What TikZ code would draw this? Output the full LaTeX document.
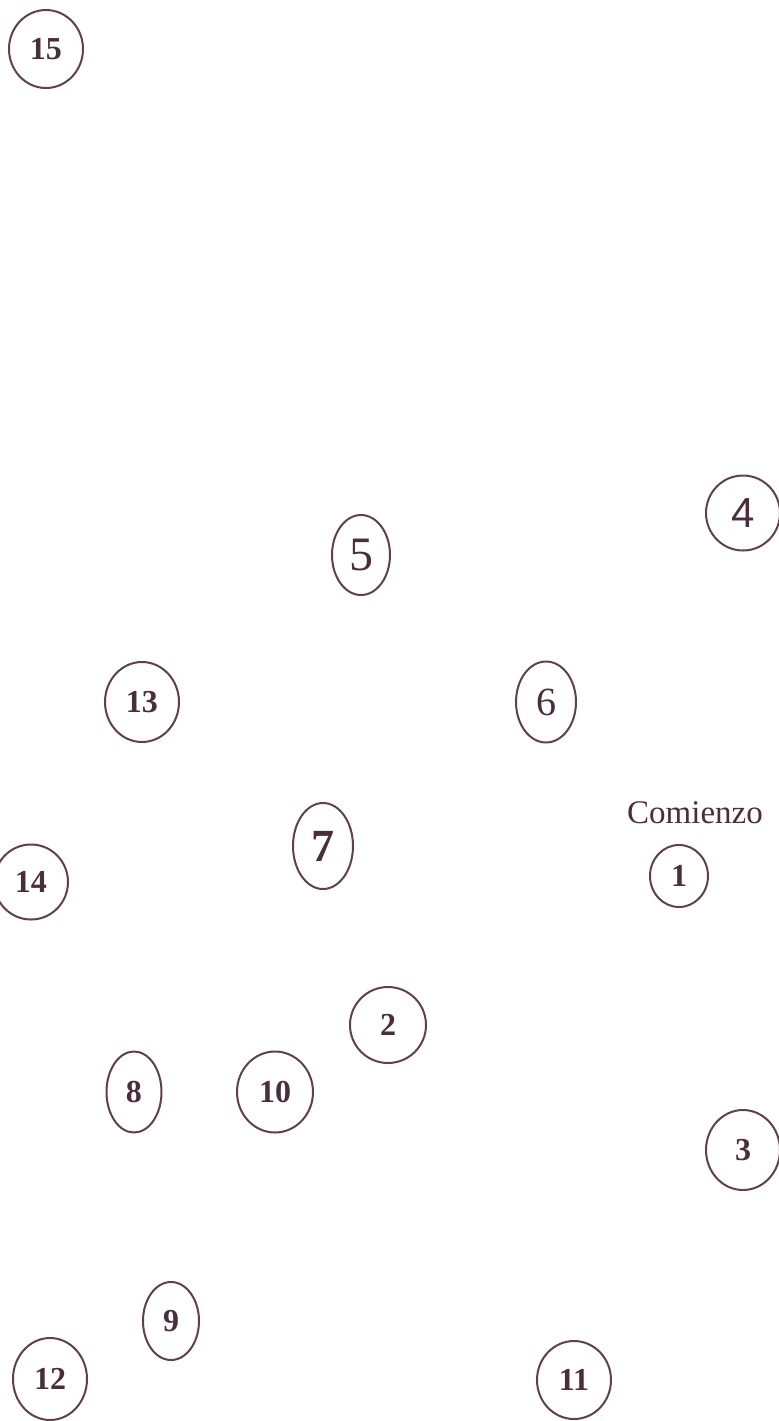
\documentclass[tikz,border=0pt]{standalone}
\usepackage{fontspec}
\setmainfont{Liberation Serif}
\newfontfamily\arialfont{Liberation Sans}
\usepackage{xcolor}
\definecolor{ring-line}{HTML}{5E4050}
\definecolor{ring-text}{HTML}{4B2E3D}
\usetikzlibrary{
  shapes.geometric,
  positioning
}

\begin{document}
\begin{tikzpicture}[
    x=0.5pt, y=-0.5pt,
    stop/.style={
      ellipse,
      draw=ring-line,
      line width=1pt,
      inner sep=0pt,
      text=ring-text,
      font=\fontsize{16}{16}\selectfont\bfseries,
      minimum width=37pt,
      minimum height=39pt
    },
    plain/.style={
      font=\fontsize{#1}{#1}\selectfont\mdseries
    },
    tag/.style={
      text=ring-text,
      font=\fontsize{16.5}{16.5}\selectfont
    }
  ]
    \useasboundingbox (0,0) rectangle (779,1421);

    % upper part
    \node[stop] (n15) at (46, 49) {15};
    \node[stop, minimum height=37.5pt, font=\fontsize{21}{21}\selectfont\arialfont] (n4) at (743, 513) {4};
    \node[stop, minimum width=29pt, minimum height=40pt, plain=24] (n5) at (361, 555) {5};
    \node[stop, minimum height=40pt] (n13) at (142, 702) {13};
    \node[stop, minimum width=30pt, minimum height=40.5pt, plain=20] (n6) at (546, 702) {6};

    % start
    \node[tag] (comienzo) at (695, 813) {Comienzo};
    \node[stop, minimum width=29pt, minimum height=31pt] (n1) at (679, 876) {1};

    % middle part
    \node[stop, minimum width=30pt, minimum height=43pt, font=\fontsize{23}{23}\selectfont\bfseries] (n7) at (323, 846) {7};
    \node[stop, minimum height=37.5pt] (n14) at (31, 882) {14};
    \node[stop, minimum width=38pt, minimum height=38pt] (n2) at (388, 1025) {2};
    \node[stop, minimum width=27.5pt, minimum height=40.5pt] (n8) at (134, 1092) {8};
    \node[stop, minimum width=38pt, minimum height=40.5pt] (n10) at (275, 1092) {10};
    \node[stop, minimum height=40pt] (n3) at (743, 1150) {3};

    % lower part
    \node[stop, minimum width=28pt] (n9) at (171, 1321) {9};
    \node[stop, minimum height=41pt] (n12) at (50, 1379) {12};
    \node[stop] (n11) at (574, 1380) {11};
  \end{tikzpicture}
\end{document}
